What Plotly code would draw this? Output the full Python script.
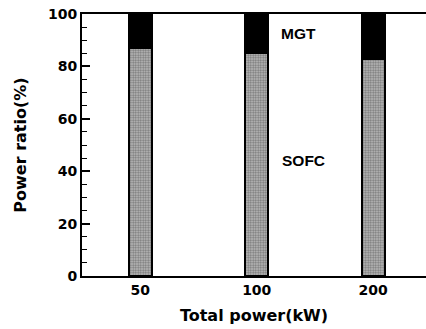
import plotly.graph_objects as go

categories = ["50", "100", "200"]
sofc = [87, 85, 83]
mgt = [13, 15, 17]
yticks = [0, 20, 40, 60, 80, 100]

xpos = list(range(len(categories)))

fig = go.Figure()
fig.add_trace(go.Bar(
    x=xpos, y=sofc, width=0.2, name="SOFC",
    marker=dict(color="#999999",
                line=dict(color="black", width=2),
                pattern=dict(shape=".", fgcolor="#303030", bgcolor="#c0c0c0",
                             size=2.5, solidity=0.5)),
))
fig.add_trace(go.Bar(
    x=xpos, y=mgt, width=0.2, name="MGT",
    marker=dict(color="black", line=dict(color="black", width=2)),
))

tickfont = dict(family="DejaVu Sans", size=14, color="black", weight="bold")
titlefont = dict(family="DejaVu Sans", size=16, color="black", weight="bold")

fig.update_layout(
    barmode="stack",
    width=426, height=329,
    margin=dict(l=82, r=0, t=14, b=53),
    paper_bgcolor="white", plot_bgcolor="white",
    showlegend=False,
    xaxis=dict(
        range=[-0.5, 2.453], tickvals=xpos, ticktext=categories,
        showgrid=False, zeroline=False,
        showline=True, linecolor="black", linewidth=2, mirror=True,
        ticks="", tickfont=tickfont,
        title=dict(text="Total power(kW)", font=titlefont, standoff=13),
    ),
    yaxis=dict(
        range=[0, 100], tickvals=yticks,
        showgrid=False, zeroline=False,
        showline=True, linecolor="black", linewidth=2,
        ticks="inside", ticklen=8, tickwidth=1.5, tickcolor="black",
        minor=dict(dtick=5, ticks="inside", ticklen=5, tickwidth=1.2, tickcolor="black"),
        tickfont=tickfont,
        title=dict(text="Power ratio(%)", font=titlefont, standoff=17),
    ),
    annotations=[
        dict(x=1.195, y=92.7, xref="x", yref="y", text="MGT", showarrow=False,
             xanchor="left", yanchor="middle",
             font=dict(family="Liberation Sans", size=15.5, color="black", weight="bold")),
        dict(x=1.2, y=43.9, xref="x", yref="y", text="SOFC", showarrow=False,
             xanchor="left", yanchor="middle",
             font=dict(family="Liberation Sans", size=15.5, color="black", weight="bold")),
    ],
)

fig.write_html("out.html")
